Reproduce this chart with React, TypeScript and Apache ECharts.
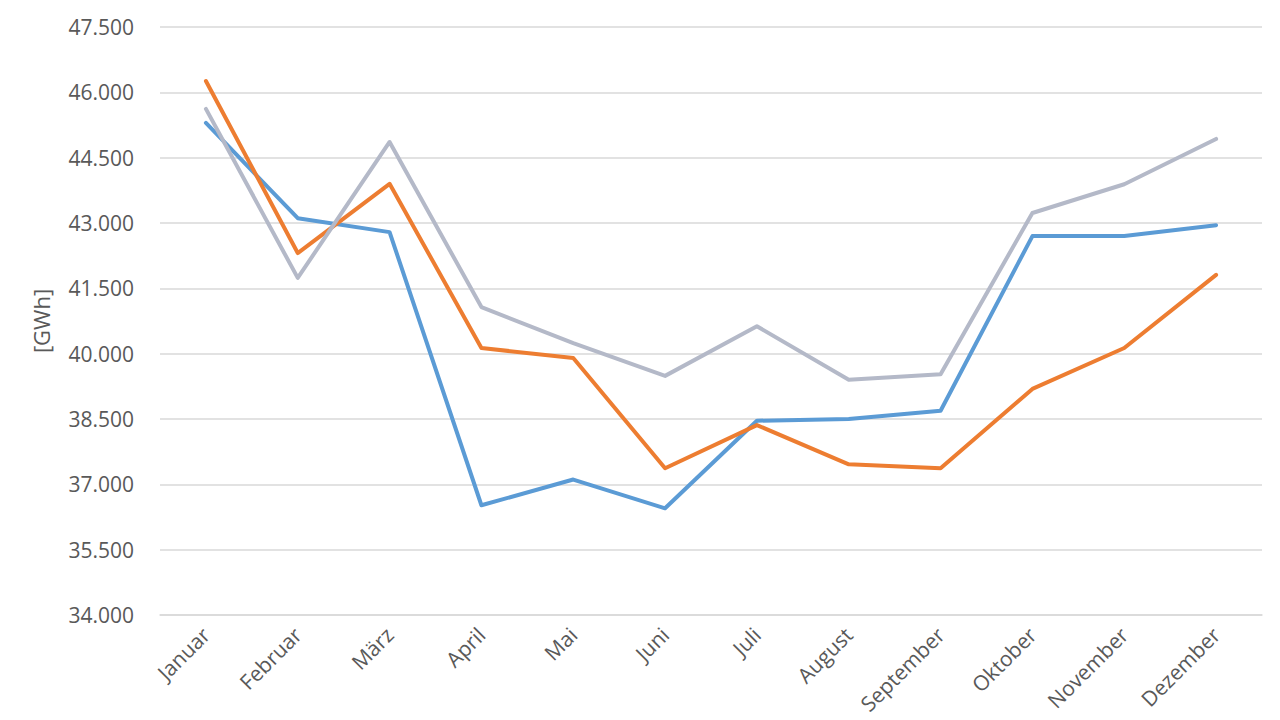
import * as echarts from "echarts";
import React, { useEffect, useRef } from "react";

const months = [
  "Januar",
  "Februar",
  "März",
  "April",
  "Mai",
  "Juni",
  "Juli",
  "August",
  "September",
  "Oktober",
  "November",
  "Dezember",
];

// Werte in MWh
const blueValues = [45300, 43110, 42790, 36520, 37110, 36450, 38460, 38500, 38690, 42700, 42700, 42950];
const orangeValues = [46260, 42310, 43900, 40130, 39900, 37370, 38360, 37460, 37370, 39190, 40130, 41810];
const grayValues = [45620, 41740, 44860, 41070, 40240, 39490, 40630, 39400, 39530, 43230, 43890, 44930];

const yMin = 34000;
const yMax = 47500;
const yStep = 1500;

const fontFamily = "'Open Sans', 'Liberation Sans', sans-serif";
const textColor = "#595959";

const formatValue = (v: number) =>
  Math.round(v)
    .toString()
    .replace(/\B(?=(\d{3})+(?!\d))/g, ".");

const lineSeries = (data: number[], color: string) => ({
  type: "line",
  data,
  symbol: "none",
  lineStyle: { color, width: 4, cap: "round", join: "round" },
  itemStyle: { color },
});

const App: React.FC = () => {
  const chartRef = useRef<HTMLDivElement | null>(null);

  useEffect(() => {
    document.body.style.margin = "0";
    const chart = echarts.init(chartRef.current, null, { renderer: "svg" });
    chart.setOption({
      animation: false,
      backgroundColor: "#ffffff",
      grid: {
        left: 160,
        right: 18,
        top: 27,
        bottom: 105,
        containLabel: false,
        outerBoundsMode: "none",
      },
      xAxis: {
        type: "category",
        data: months,
        boundaryGap: true,
        axisLine: { show: true, lineStyle: { color: "#d9d9d9", width: 1.5 } },
        axisTick: { show: false },
        axisLabel: {
          rotate: 45,
          margin: 16,
          color: textColor,
          fontFamily,
          fontSize: 21,
          interval: 0,
        },
      },
      yAxis: {
        type: "value",
        min: yMin,
        max: yMax,
        interval: yStep,
        name: "[GWh]",
        nameLocation: "middle",
        nameGap: 108,
        nameTextStyle: { color: textColor, fontFamily, fontSize: 22 },
        axisLine: { show: false },
        axisTick: { show: false },
        splitLine: { lineStyle: { color: "#d9d9d9", width: 1.5 } },
        axisLabel: {
          color: textColor,
          fontFamily,
          fontSize: 21,
          margin: 26,
          formatter: (v: number) => formatValue(v),
        },
      },
      series: [
        lineSeries(blueValues, "#5b9bd5"),
        lineSeries(orangeValues, "#ed7d31"),
        lineSeries(grayValues, "#b4b9c8"),
      ],
    });

    return () => {
      chart.dispose();
    };
  }, []);

  return <div ref={chartRef} style={{ width: "1280px", height: "720px" }}></div>;
};

export default App;
